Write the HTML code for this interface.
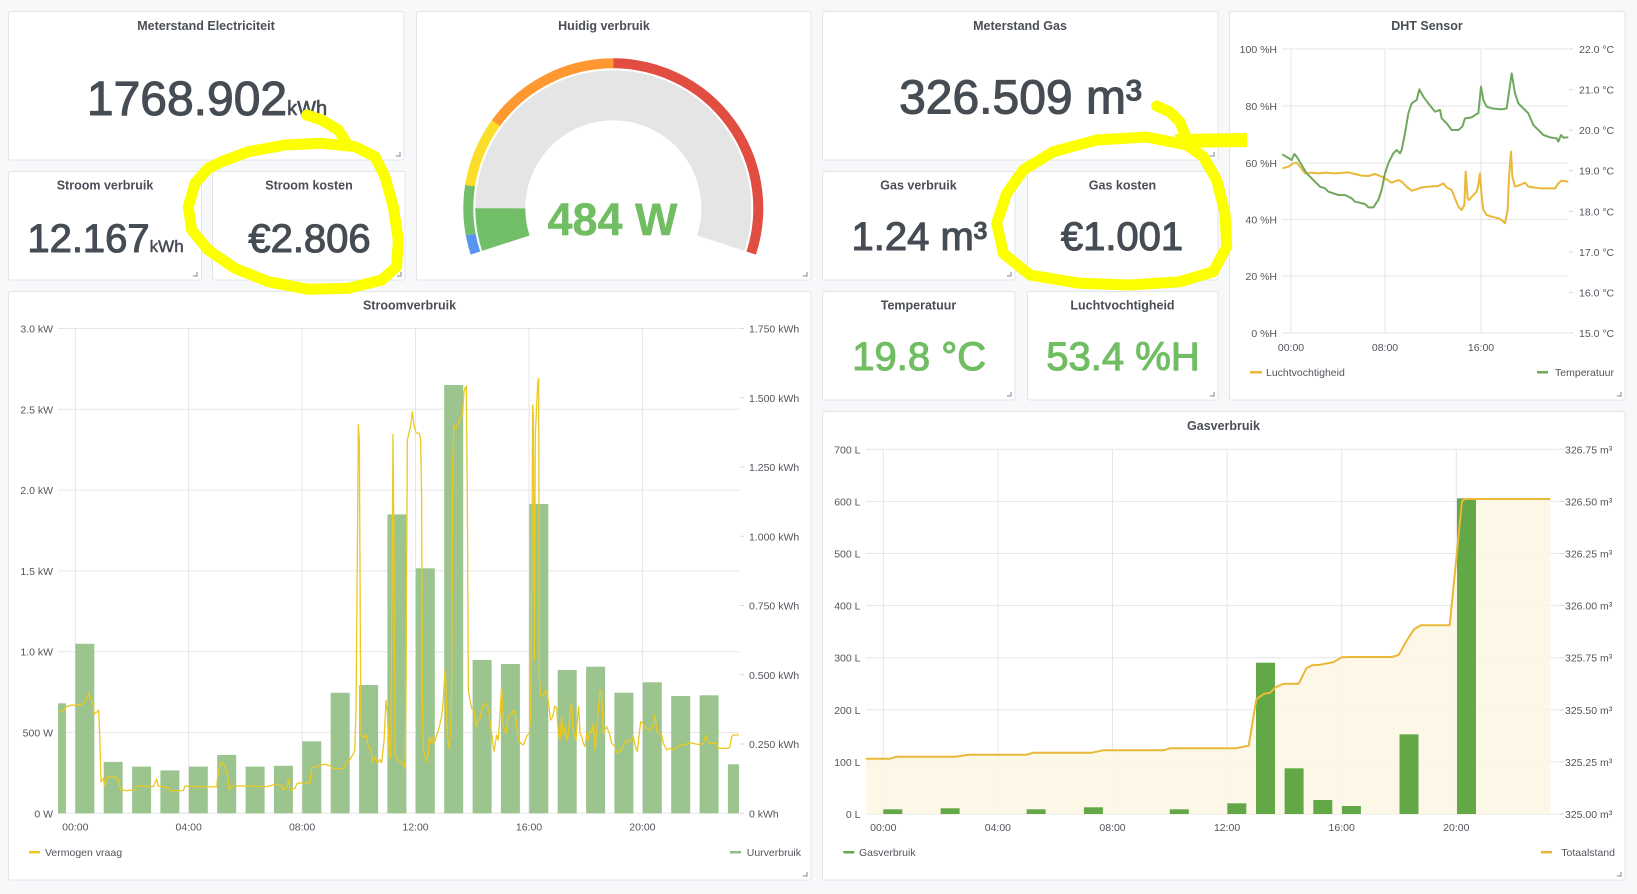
<!DOCTYPE html>
<html><head><meta charset="utf-8"><style>
html,body{margin:0;padding:0;background:#f7f8fa;}
svg{display:block;font-family:"Liberation Sans",sans-serif;}
.pn{fill:#fff;stroke:#e1e4e9;stroke-width:1;}
.tt{font-size:12.5px;font-weight:bold;fill:#4a4e57;text-anchor:middle;}
.bv{fill:#464c54;text-anchor:middle;stroke:#464c54;stroke-width:1.1;stroke-linejoin:round;}
.gv{fill:#70bd63;text-anchor:middle;stroke:#70bd63;stroke-width:1.1;stroke-linejoin:round;}
.ax{font-size:10.5px;fill:#52555c;}
.g{stroke:#e6e6e6;stroke-width:1;fill:none;}
.h{stroke:#a9adb3;stroke-width:1.5;fill:none;}
</style></head><body>
<svg width="1637" height="894" viewBox="0 0 1637 894" xmlns="http://www.w3.org/2000/svg">
<defs>
<clipPath id="cs"><rect x="58" y="300" width="681" height="514"/></clipPath>
<clipPath id="cg"><rect x="866" y="440" width="694" height="375"/></clipPath>
<clipPath id="cd"><rect x="1282" y="40" width="287" height="294"/></clipPath>
</defs>
<rect width="1637" height="894" fill="#f7f8fa"/>

<!-- Panels -->
<rect class="pn" x="8.5" y="11.5" width="395.5" height="148.5" rx="2"/>
<rect class="pn" x="416.5" y="11.5" width="394.5" height="268.5" rx="2"/>
<rect class="pn" x="822.5" y="11.5" width="395.5" height="148.5" rx="2"/>
<rect class="pn" x="1229.5" y="11.5" width="395.5" height="388.5" rx="2"/>
<rect class="pn" x="8.5" y="171.5" width="193" height="108.5" rx="2"/>
<rect class="pn" x="212.5" y="171.5" width="192.5" height="108.5" rx="2"/>
<rect class="pn" x="822.5" y="171.5" width="192.5" height="108.5" rx="2"/>
<rect class="pn" x="1027.5" y="171.5" width="190.5" height="108.5" rx="2"/>
<rect class="pn" x="822.5" y="291.5" width="192.5" height="108.5" rx="2"/>
<rect class="pn" x="1027.5" y="291.5" width="190.5" height="108.5" rx="2"/>
<rect class="pn" x="8.5" y="291.5" width="802.5" height="588.5" rx="2"/>
<rect class="pn" x="822.5" y="411.5" width="802.5" height="468.5" rx="2"/>

<!-- resize handles -->
<path class="h" d="M396 156H400V152"/>
<path class="h" d="M803 276H807V272"/>
<path class="h" d="M1210 156H1214V152"/>
<path class="h" d="M1617 396H1621V392"/>
<path class="h" d="M193 276H197V272"/>
<path class="h" d="M397 276H401V272"/>
<path class="h" d="M1007 276H1011V272"/>
<path class="h" d="M1210 276H1214V272"/>
<path class="h" d="M1007 396H1011V392"/>
<path class="h" d="M1210 396H1214V392"/>
<path class="h" d="M803 876H807V872"/>
<path class="h" d="M1617 876H1621V872"/>

<!-- Titles -->
<text class="tt" x="206" y="30">Meterstand Electriciteit</text>
<text class="tt" x="604" y="30">Huidig verbruik</text>
<text class="tt" x="1020" y="30">Meterstand Gas</text>
<text class="tt" x="1427" y="30">DHT Sensor</text>
<text class="tt" x="105" y="189.5">Stroom verbruik</text>
<text class="tt" x="309" y="189.5">Stroom kosten</text>
<text class="tt" x="918.5" y="189.5">Gas verbruik</text>
<text class="tt" x="1122.5" y="189.5">Gas kosten</text>
<text class="tt" x="918.5" y="309.5">Temperatuur</text>
<text class="tt" x="1122.5" y="309.5">Luchtvochtigheid</text>
<text class="tt" x="409.5" y="309.5">Stroomverbruik</text>
<text class="tt" x="1223.5" y="430">Gasverbruik</text>

<!-- Stat values -->
<text class="bv" x="207" y="115" font-size="48">1768.902<tspan font-size="20" stroke-width="0.6">kWh</tspan></text>
<text class="bv" x="105.5" y="252" font-size="40">12.167<tspan font-size="17" stroke-width="0.5">kWh</tspan></text>
<text class="bv" x="309.5" y="252" font-size="40">€2.806</text>
<text class="bv" x="1020.5" y="113.5" font-size="48">326.509 m³</text>
<text class="bv" x="919.3" y="250" font-size="40">1.24 m³</text>
<text class="bv" x="1122" y="250" font-size="40">€1.001</text>
<text class="gv" x="919.2" y="370" font-size="40">19.8 °C</text>
<text class="gv" x="1123" y="370" font-size="40">53.4 %H</text>

<!-- Gauge -->
<path d="M505.8 243.2A113 113 0 1 1 720.8 243.2" fill="none" stroke="#e5e5e5" stroke-width="50"/>
<path d="M505.8 243.2A113 113 0 0 1 500.3 208.3" fill="none" stroke="#73bf69" stroke-width="50"/>
<g fill="none" stroke-width="10">
<path d="M475.4 253.1A145 145 0 0 1 470.7 234.5" stroke="#5794f2"/>
<path d="M470.7 234.5A145 145 0 0 1 470.1 185.6" stroke="#73bf69"/>
<path d="M470.1 185.6A145 145 0 0 1 495.8 123.3" stroke="#fade2a"/>
<path d="M495.8 123.3A145 145 0 0 1 613.3 63.3" stroke="#ff9830"/>
<path d="M613.3 63.3A145 145 0 0 1 751.2 253.1" stroke="#e24d42"/>
</g>
<text x="612.5" y="235" font-size="45" font-weight="bold" fill="#70bd63" stroke="#70bd63" stroke-width="0.4" text-anchor="middle">484 W</text>

<!-- DHT chart -->
<g class="g">
<path d="M1282 49H1568M1282 106H1568M1282 163H1568M1282 219.5H1568M1282 276H1568M1282 333H1568"/>
<path d="M1291 49V333M1385 49V333M1481 49V333"/>
<path d="M1569 49H1573M1569 89.6H1573M1569 130.1H1573M1569 170.7H1573M1569 211.3H1573M1569 251.9H1573M1569 292.4H1573M1569 333H1573" stroke="#d8d8d8"/>
</g>
<g class="ax" text-anchor="end">
<text x="1277" y="53">100 %H</text><text x="1277" y="110">80 %H</text><text x="1277" y="167">60 %H</text>
<text x="1277" y="223.5">40 %H</text><text x="1277" y="280">20 %H</text><text x="1277" y="337">0 %H</text>
</g>
<g class="ax">
<text x="1579" y="53">22.0 °C</text><text x="1579" y="93.6">21.0 °C</text><text x="1579" y="134.1">20.0 °C</text>
<text x="1579" y="174.7">19.0 °C</text><text x="1579" y="215.3">18.0 °C</text><text x="1579" y="255.9">17.0 °C</text>
<text x="1579" y="296.4">16.0 °C</text><text x="1579" y="337">15.0 °C</text>
</g>
<g class="ax" text-anchor="middle">
<text x="1291" y="351">00:00</text><text x="1385" y="351">08:00</text><text x="1481" y="351">16:00</text>
</g>
<g clip-path="url(#cd)">
<g transform="translate(1225,0) scale(0.33333)" fill="none" stroke-linejoin="round">
<polyline vector-effect="non-scaling-stroke" stroke="#eab839" stroke-width="2" points="172,505 190,500 205,490 215,488 225,500 240,520 260,518 280,520 300,518 330,520 370,517 390,522 410,527 430,528 450,522 470,530 480,535 500,548 520,540 530,545 545,560 560,572 575,568 590,562 610,560 640,558 655,550 665,562 680,570 690,595 700,620 710,630 718,615 722,515 728,595 732,600 745,585 755,575 760,555 765,520 770,590 775,630 785,645 800,650 820,655 830,660 840,670 848,630 852,530 858,455 862,530 870,560 885,555 900,548 910,560 930,563 950,565 990,565 1000,550 1010,542 1030,545"/>
<polyline vector-effect="non-scaling-stroke" stroke="#6fa85e" stroke-width="2" points="172,463 200,480 208,462 215,470 230,495 245,520 260,535 285,560 300,565 310,575 340,585 360,585 380,595 390,605 420,612 430,622 445,622 460,600 470,570 480,520 490,490 505,460 515,450 525,460 530,450 540,400 550,340 560,310 575,300 583,268 595,290 610,310 630,335 645,330 650,355 665,370 680,390 700,390 712,380 720,355 740,352 755,342 760,340 768,260 775,300 785,320 800,325 830,328 845,325 853,270 860,220 870,280 880,310 900,330 910,340 925,375 940,390 955,405 975,412 995,415 1000,425 1008,405 1015,413 1030,412"/>
</g>
</g>
<rect x="1250" y="371" width="12" height="2.5" fill="#eab839"/>
<text class="ax" x="1266" y="376">Luchtvochtigheid</text>
<rect x="1537" y="371" width="11" height="2.5" fill="#6fa85e"/>
<text class="ax" x="1614" y="376" text-anchor="end">Temperatuur</text>

<!-- Stroomverbruik chart -->
<g class="g">
<path d="M58 328.5H739M58 409.3H739M58 490.1H739M58 570.9H739M58 651.7H739M58 732.5H739M58 813.3H739"/>
<path d="M75.3 328.5V813M188.7 328.5V813M302.1 328.5V813M415.5 328.5V813M529 328.5V813M642.4 328.5V813"/>
<path d="M740 328.5H744M740 397.8H744M740 467H744M740 536.3H744M740 605.5H744M740 674.8H744M740 744H744M740 813.3H744" stroke="#d8d8d8"/>
</g>
<g fill="#9bc48f">
<rect x="58" y="703.3" width="7.9" height="110"/>
<rect x="75.3" y="643.8" width="19" height="169.5"/>
<rect x="103.7" y="761.9" width="19" height="51.4"/>
<rect x="132.1" y="766.6" width="19" height="46.7"/>
<rect x="160.4" y="770.4" width="19" height="42.9"/>
<rect x="188.8" y="766.6" width="19" height="46.7"/>
<rect x="217.2" y="754.9" width="19" height="58.4"/>
<rect x="245.6" y="766.6" width="19" height="46.7"/>
<rect x="273.9" y="765.8" width="19" height="47.5"/>
<rect x="302.3" y="741.3" width="19" height="72"/>
<rect x="330.7" y="692.8" width="19" height="120.5"/>
<rect x="359.1" y="685" width="19" height="128.3"/>
<rect x="387.4" y="514.4" width="19" height="298.9"/>
<rect x="415.8" y="568.3" width="19" height="245"/>
<rect x="444.2" y="385" width="19" height="428.3"/>
<rect x="472.6" y="660" width="19" height="153.3"/>
<rect x="500.9" y="664" width="19" height="149.3"/>
<rect x="529.3" y="504" width="19" height="309.3"/>
<rect x="557.7" y="670" width="19" height="143.3"/>
<rect x="586.1" y="666.7" width="19" height="146.6"/>
<rect x="614.4" y="692.7" width="19" height="120.6"/>
<rect x="642.8" y="682.3" width="19" height="131"/>
<rect x="671.2" y="696" width="19" height="117.3"/>
<rect x="699.6" y="695.3" width="19" height="118"/>
<rect x="727.9" y="764.3" width="11.1" height="49"/>
</g>
<g clip-path="url(#cs)" fill="none" stroke="#ecc820" stroke-linejoin="round">
<g transform="translate(0,285) scale(0.33333,0.38835)">
<polyline vector-effect="non-scaling-stroke" stroke-width="1.3" points="175,1097 190,1097 200,1085 215,1082 230,1082 245,1080 255,1075 262,1060 266,1050 272,1065 278,1080 283,1105 290,1100 296,1095 300,1180 303,1280 310,1270 315,1290 320,1268 330,1265 345,1268 355,1275 362,1300 380,1302 405,1300 410,1290 430,1290 460,1292 470,1272 475,1290 490,1292 505,1295 512,1302 550,1302 555,1290 600,1292 650,1292 655,1250 665,1228 675,1240 683,1265 688,1300 695,1290 700,1290 740,1290 800,1292 830,1285 845,1290 850,1300 860,1296 866,1272 870,1300 885,1296 890,1285 900,1282 930,1282 935,1242 950,1240 960,1236 975,1234 990,1238 1000,1245 1030,1245 1040,1230 1050,1222 1058,1210 1064,1200 1068,1100 1072,700 1075,360 1078,400 1081,900 1083,1160 1090,1165 1098,1158 1105,1190 1112,1195 1118,1228 1125,1215 1132,1232 1140,1222 1145,1230 1152,1175 1158,1070 1162,1100 1168,1212 1172,1218 1176,800 1179,385 1182,700 1185,1210 1195,1225 1205,1230 1212,1235 1216,1245"/>
</g>
<g transform="translate(400,300) scale(0.33333)">
<polyline vector-effect="non-scaling-stroke" stroke-width="1.3" points="15,1405 18,1200 22,420 28,395 33,370 37,335 42,375 47,395 52,400 58,400 62,420 65,600 67,1200 70,1350 75,1370 80,1385 85,1360 88,1310 92,1330 96,1310 100,1330 106,1320 112,1300 118,1280 125,1250 130,1200 135,1110 138,1160 142,1310 147,1345 152,1300 155,1150 158,500 162,375 168,385 175,370 182,355 188,340 192,275 196,262 199,258 202,600 205,1170 210,1200 215,1225 222,1230 228,1280 232,1265 240,1255 248,1220 255,1210 262,1215 268,1250 275,1300 282,1355 290,1305 295,1320 300,1240 305,1160 310,1280 318,1300 325,1250 335,1240 342,1230 348,1260 355,1320 362,1330 370,1335 376,1320 382,1305 388,1300 392,1250 396,700 398,315 400,350 403,1080 406,400 410,320 413,250 416,235 418,1130 421,1180 425,1190 432,1185 438,1170 442,1180 448,1230 452,1260 458,1250 465,1218 470,1225 475,1300 480,1320 485,1250 490,1310 495,1280 500,1320 505,1300 510,1240 515,1210 518,1280 522,1300 528,1320 532,1260 536,1220 540,1300 545,1310 550,1330 555,1340 560,1300 565,1320 570,1290 575,1300 580,1270 585,1350 590,1290 595,1230 600,1170 605,1180 610,1300 615,1290 620,1280 628,1300 635,1330 645,1340 650,1358 660,1355 668,1340 678,1320 685,1325 695,1320 700,1310 705,1335 712,1355 718,1300 722,1265 728,1270 735,1280 745,1290 755,1290 765,1245 770,1290 775,1300 785,1305 790,1330 800,1350 810,1345 820,1350 830,1340 845,1335 860,1332 870,1328 880,1330 895,1334 910,1330 918,1305 925,1330 940,1330 950,1328 955,1345 970,1345 985,1345 990,1340 995,1310 1000,1305 1010,1305 1017,1305"/>
</g>
</g>
<g class="ax" text-anchor="end">
<text x="53" y="332.5">3.0 kW</text><text x="53" y="413.3">2.5 kW</text><text x="53" y="494.1">2.0 kW</text>
<text x="53" y="574.9">1.5 kW</text><text x="53" y="655.7">1.0 kW</text><text x="53" y="736.5">500 W</text><text x="53" y="817.3">0 W</text>
</g>
<g class="ax">
<text x="749" y="332.5">1.750 kWh</text><text x="749" y="401.8">1.500 kWh</text><text x="749" y="471">1.250 kWh</text>
<text x="749" y="540.3">1.000 kWh</text><text x="749" y="609.5">0.750 kWh</text><text x="749" y="678.8">0.500 kWh</text>
<text x="749" y="748">0.250 kWh</text><text x="749" y="817.3">0 kWh</text>
</g>
<g class="ax" text-anchor="middle">
<text x="75.3" y="830.5">00:00</text><text x="188.7" y="830.5">04:00</text><text x="302.1" y="830.5">08:00</text>
<text x="415.5" y="830.5">12:00</text><text x="529" y="830.5">16:00</text><text x="642.4" y="830.5">20:00</text>
</g>
<rect x="29" y="851" width="11" height="2.5" fill="#ecc820"/>
<text class="ax" x="45" y="856">Vermogen vraag</text>
<rect x="730" y="851" width="11" height="2.5" fill="#8fbd80"/>
<text class="ax" x="801" y="856" text-anchor="end">Uurverbruik</text>

<!-- Gasverbruik chart -->
<g class="g">
<path d="M866 449.3H1559M866 501.4H1559M866 553.5H1559M866 605.6H1559M866 657.7H1559M866 709.8H1559M866 761.9H1559M866 814H1559"/>
<path d="M883.3 449.3V814M997.9 449.3V814M1112.5 449.3V814M1227.1 449.3V814M1341.7 449.3V814M1456.3 449.3V814"/>
<path d="M1560 449.3H1564M1560 501.4H1564M1560 553.5H1564M1560 605.6H1564M1560 657.7H1564M1560 709.8H1564M1560 761.9H1564M1560 814H1564" stroke="#d8d8d8"/>
</g>
<polygon fill="#fcf6e4" fill-opacity="0.9" points="866,758.7 890,758.7 896.7,756.7 955,756.7 968.3,754.7 1026.7,754.7 1033.3,752.7 1091.7,752.7 1103.3,750.3 1163.3,750.3 1170,748.3 1235.3,748.3 1248.7,745.7 1256.3,699.3 1263.7,694 1270.3,692.7 1275.3,687.3 1283.7,683.7 1298.7,683.7 1306.3,668.3 1312,665.3 1320.3,664.7 1333.7,662 1342,657.3 1350.3,657 1392,657 1398.7,655 1407,640 1414.3,629 1421,625.3 1449.7,625.3 1462,501 1465.3,499 1550.3,499 1550.3,814 866,814"/>
<g fill="#62a847">
<rect x="883.3" y="809.3" width="19" height="4.7"/>
<rect x="940.6" y="808.3" width="19" height="5.7"/>
<rect x="1026.6" y="809.3" width="19" height="4.7"/>
<rect x="1083.9" y="807.3" width="19" height="6.7"/>
<rect x="1169.8" y="809.3" width="19" height="4.7"/>
<rect x="1227.3" y="803.3" width="19" height="10.7"/>
<rect x="1256" y="662.7" width="19" height="151.3"/>
<rect x="1284.6" y="768.3" width="19" height="45.7"/>
<rect x="1313.3" y="800" width="19" height="14"/>
<rect x="1341.9" y="806" width="19" height="8"/>
<rect x="1399.5" y="734.3" width="19" height="79.7"/>
<rect x="1457" y="498.3" width="19" height="315.7"/>
</g>
<polyline clip-path="url(#cg)" fill="none" stroke="#eab839" stroke-width="2" stroke-linejoin="round" points="866,758.7 890,758.7 896.7,756.7 955,756.7 968.3,754.7 1026.7,754.7 1033.3,752.7 1091.7,752.7 1103.3,750.3 1163.3,750.3 1170,748.3 1235.3,748.3 1248.7,745.7 1256.3,699.3 1263.7,694 1270.3,692.7 1275.3,687.3 1283.7,683.7 1298.7,683.7 1306.3,668.3 1312,665.3 1320.3,664.7 1333.7,662 1342,657.3 1350.3,657 1392,657 1398.7,655 1407,640 1414.3,629 1421,625.3 1449.7,625.3 1462,501 1465.3,499 1550.3,499"/>
<g class="ax" text-anchor="end">
<text x="860.5" y="453.3">700 L</text><text x="860.5" y="505.4">600 L</text><text x="860.5" y="557.5">500 L</text>
<text x="860.5" y="609.6">400 L</text><text x="860.5" y="661.7">300 L</text><text x="860.5" y="713.8">200 L</text>
<text x="860.5" y="765.9">100 L</text><text x="860.5" y="818">0 L</text>
</g>
<g class="ax">
<text x="1565" y="453.3">326.75 m³</text><text x="1565" y="505.4">326.50 m³</text><text x="1565" y="557.5">326.25 m³</text>
<text x="1565" y="609.6">326.00 m³</text><text x="1565" y="661.7">325.75 m³</text><text x="1565" y="713.8">325.50 m³</text>
<text x="1565" y="765.9">325.25 m³</text><text x="1565" y="818">325.00 m³</text>
</g>
<g class="ax" text-anchor="middle">
<text x="883.3" y="831">00:00</text><text x="997.9" y="831">04:00</text><text x="1112.5" y="831">08:00</text>
<text x="1227.1" y="831">12:00</text><text x="1341.7" y="831">16:00</text><text x="1456.3" y="831">20:00</text>
</g>
<rect x="843.3" y="851" width="11" height="2.5" fill="#62a847"/>
<text class="ax" x="859" y="856">Gasverbruik</text>
<rect x="1541" y="851" width="11" height="2.5" fill="#eab839"/>
<text class="ax" x="1615" y="856" text-anchor="end">Totaalstand</text>

<!-- Yellow annotations -->
<g fill="none" stroke="#fbff00" stroke-width="11" stroke-linecap="round" stroke-linejoin="round">
<polyline points="306.7,115 321.7,120 338.3,130 346.7,143.3"/>
<polyline points="208.3,168.3 195,183.3 188.3,206.7 191.7,230 208.3,250 235,268.3 268.3,281.7 308.3,289.3 348.3,288.3 381.7,280 396.7,266.7 398.3,240 393.3,206.7 385,176.7 375,156.7 355,146.7 321.7,143.3 285,145 248.3,151.7 221.7,161.7 208.3,168.3"/>
<polyline points="1156.7,106 1170,112 1180,122 1185,135"/>
<polyline points="1186.7,145 1146.7,137 1096.7,140 1053.3,151.7 1023.3,170 1006.7,193.3 996.7,223.3 1003.3,253.3 1030,275 1080,283.3 1130,285 1180,281.7 1213.3,271.7 1226.7,246.7 1225,213.3 1216.7,180 1203.3,156.7 1186.7,145"/>
<polyline stroke-width="14" stroke-linecap="butt" points="1175,141 1247,140"/>
</g>
</svg>
</body></html>
